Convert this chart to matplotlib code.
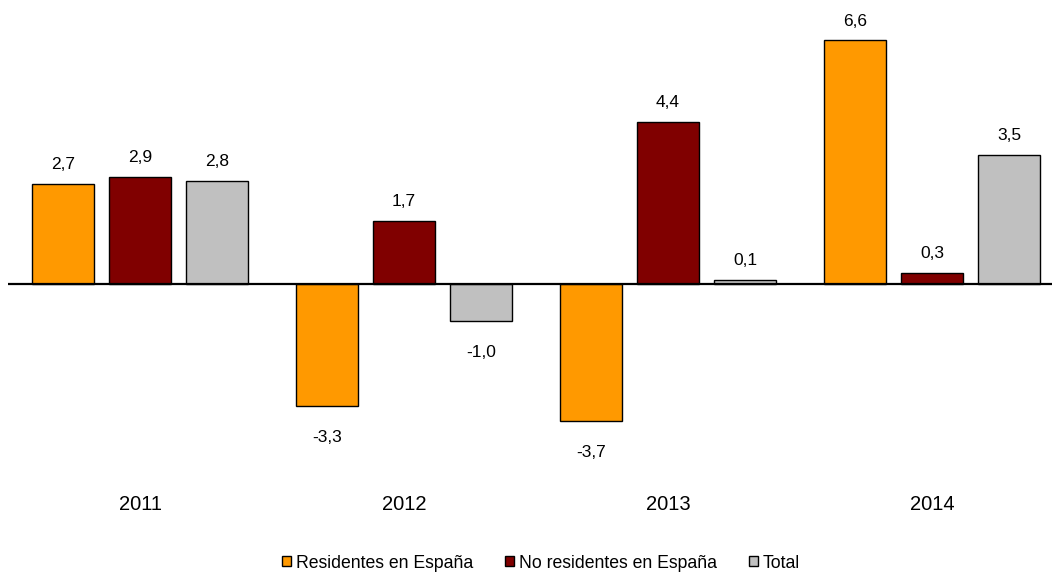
import matplotlib
matplotlib.use("Agg")
import matplotlib.pyplot as plt
from matplotlib.patches import Patch
import numpy as np

years = ["2011", "2012", "2013", "2014"]
series_names = ["Residentes en España", "No residentes en España", "Total"]
residentes = [2.7, -3.3, -3.7, 6.6]
no_residentes = [2.9, 1.7, 4.4, 0.3]
total = [2.8, -1.0, 0.1, 3.5]
colors = ["#FF9900", "#800000", "#C0C0C0"]

plt.rcParams['font.family'] = ['Liberation Sans', 'DejaVu Sans']

W, H = 1052, 572
fig = plt.figure(figsize=(W / 100, H / 100), dpi=100)
left_px, top_px, bottom_px = 8, 0, 460
ax = fig.add_axes([left_px / W, 1 - bottom_px / H, 1 - left_px / W, (bottom_px - top_px) / H])

group_px = 264.0
zero_px = 284.0
unit_px = 36.9
xmax = (W - left_px) / group_px - 0.5
ax.set_xlim(-0.5, xmax)
ax.set_ylim(-(bottom_px - zero_px) / unit_px, (zero_px - top_px) / unit_px)

x = np.arange(len(years))
width = 62 / group_px
offset = 77 / group_px
for i, (vals, c) in enumerate(zip([residentes, no_residentes, total], colors)):
    pos = x + (i - 1) * offset
    ax.bar(pos, vals, width, color=c, edgecolor="black", linewidth=1.0, zorder=2)
    for px, v in zip(pos, vals):
        lab = f"{v:.1f}".replace(".", ",")
        dy = 14.0 if v >= 0 else -23.0
        ax.annotate(lab, (px, v), xytext=(0, dy), textcoords="offset points",
                    ha="center", va="center", fontsize=12.5)

ax.axhline(0, color="black", linewidth=1.6, zorder=3)
for s in ax.spines.values():
    s.set_visible(False)
ax.set_yticks([])
ax.set_xticks(x)
ax.set_xticklabels(years, fontsize=14.5)
ax.tick_params(axis="x", length=0, pad=25)

handles = [Patch(facecolor=c, edgecolor="black", linewidth=1.0) for c in colors]
fig.legend(handles, series_names, loc="center", bbox_to_anchor=(541 / W, 1 - 563 / H),
           ncol=3, frameon=False, fontsize=12.7, handlelength=0.5, handleheight=0.5,
           handletextpad=0.3, columnspacing=1.8)

fig.savefig("out.png", dpi=100)
